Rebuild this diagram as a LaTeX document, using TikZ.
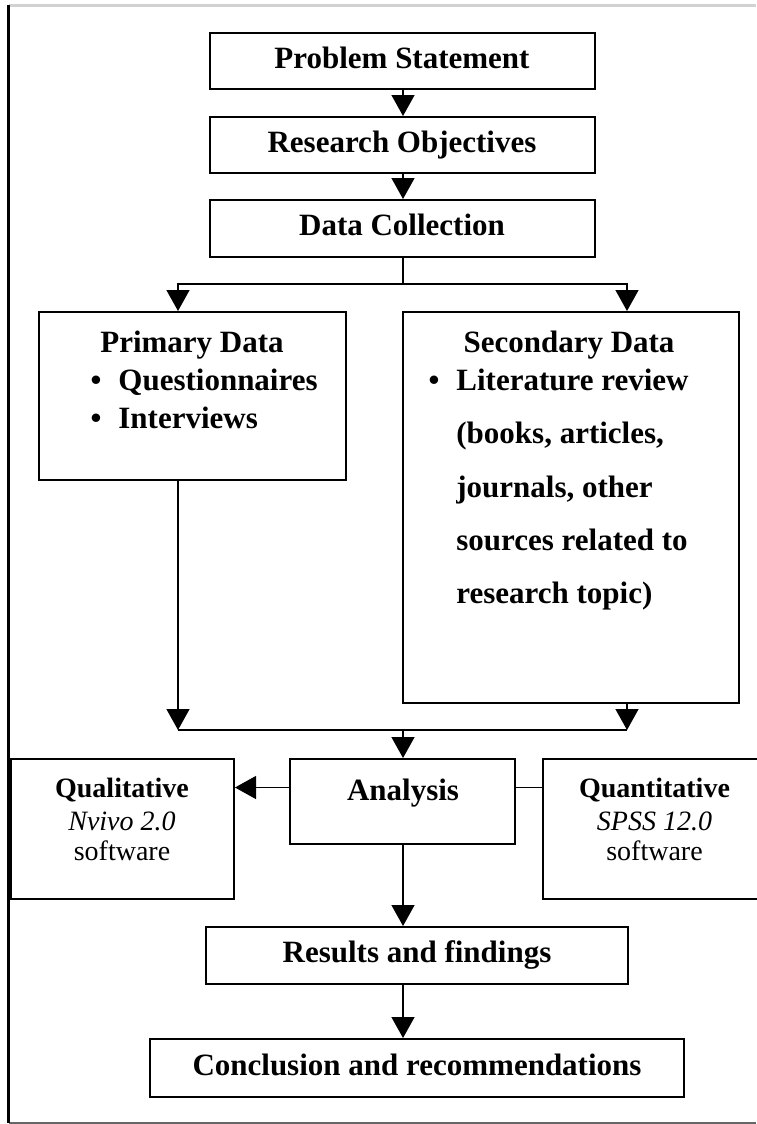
\documentclass[tikz,border=0pt]{standalone}
\usepackage{fontspec}
\setmainfont{Liberation Serif}
\usetikzlibrary{arrows.meta}
\tikzset{arrow/.style={-{Triangle[width=11.5pt,length=10.5pt]}, line width=0.7pt},
  box/.style={draw, line width=1pt, inner sep=0pt, text height=0.7em, text depth=0pt,
    font=\fontsize{15.5}{18}\selectfont\bfseries},
  txt/.style={inner sep=0pt, anchor=base, font=\fontsize{15.5}{18}\selectfont\bfseries},
  soft/.style={inner sep=0pt, anchor=base, font=\fontsize{14}{16}\selectfont}}

\begin{document}
\begin{tikzpicture}[x=0.5pt, y=-0.5pt]
      \useasboundingbox (0,0) rectangle (756,1124);
      % frame
      \draw[gray!35, line width=1.5pt] (8.5,5) -- (756,5);
      \draw[gray!80!black, line width=1pt] (8.5,1122.5) -- (756,1122.5);
      \draw[line width=1.2pt] (8.5,5) -- (8.5,1123);

      \node[box, minimum width=192.5pt, minimum height=28pt] (prob) at (402, 61) {Problem Statement};
      \node[box, minimum width=192.5pt, minimum height=28pt] (obj) at (402, 145) {Research Objectives};
      \node[box, minimum width=192.5pt, minimum height=28.5pt] (dc) at (402, 228.5) {Data Collection};

      \node[box, minimum width=153.5pt, minimum height=84pt] (prim) at (192.5, 396) {};
      \node[box, minimum width=168pt, minimum height=195.5pt] (sec) at (571, 507.5) {};

      \node[txt] (primT) at (192, 352) {Primary Data};
      \node[txt] (primB1) at (96, 390) {\textbullet};
      \node[txt, anchor=base west] (primQ) at (118, 390) {Questionnaires};
      \node[txt] (primB2) at (96, 428) {\textbullet};
      \node[txt, anchor=base west] (primI) at (118, 428) {Interviews};

      \node[txt] (secT) at (569, 352) {Secondary Data};
      \node[txt] (secB) at (434, 390) {\textbullet};
      \node[txt, anchor=base west] (secL1) at (456, 390) {Literature review};
      \node[txt, anchor=base west] (secL2) at (456, 443) {(books, articles,};
      \node[txt, anchor=base west] (secL3) at (456, 497) {journals, other};
      \node[txt, anchor=base west] (secL4) at (456, 550) {sources related to};
      \node[txt, anchor=base west] (secL5) at (456, 603) {research topic)};

      \node[box, minimum width=111.5pt, minimum height=70pt] (qual) at (122.5, 829) {};
      \node[box, minimum width=112.5pt, minimum height=42.5pt] (ana) at (402.5, 801.5) {};
      \node[box, minimum width=128.5pt, minimum height=70pt] (quan) at (671.5, 829) {};

      \node[soft, font=\fontsize{14}{16}\selectfont\bfseries] (qualT) at (122, 797) {Qualitative};
      \node[soft] (qualS) at (122, 830) {\textit{Nvivo 2.0}};
      \node[soft] (qualW) at (122, 860) {software};
      \node[txt] (anaT) at (403, 800) {Analysis};
      \node[soft, font=\fontsize{14}{16}\selectfont\bfseries] (quanT) at (654.5, 797) {Quantitative};
      \node[soft] (quanS) at (654.5, 830) {\textit{SPSS 12.0}};
      \node[soft] (quanW) at (654.5, 860) {software};

      \node[box, minimum width=211pt, minimum height=28.5pt] (res) at (417, 955.5) {Results and findings};
      \node[box, minimum width=267pt, minimum height=29pt] (conc) at (417, 1068) {Conclusion and recommendations};

      \coordinate (split) at (403, 284);
      \coordinate (splitL) at (178, 284);
      \coordinate (splitR) at (627, 284);
      \coordinate (join) at (403, 730);
      \coordinate (joinL) at (178, 730);
      \coordinate (joinR) at (627, 730);

      \draw[arrow] (prob.south -| split) -- (obj.north -| split);
      \draw[arrow] (obj.south -| split) -- (dc.north -| split);
      \draw[arrow] (dc.south -| split) -- (split) -- (splitL) -- (splitL |- prim.north);
      \draw[arrow] (split) -- (splitR) -- (splitR |- sec.north);

      \draw[arrow] (splitL |- prim.south) -- (joinL);
      \draw[arrow] (splitR |- sec.south) -- (joinR);
      \draw[line width=0.7pt] (joinL) -- (joinR);
      \draw[arrow] (join) -- (join |- ana.north);

      \draw[arrow] ([yshift=7pt]ana.west) -- ([yshift=7pt]ana.west -| qual.east);
      \draw[line width=0.7pt] ([yshift=7pt]ana.east) -- ([yshift=7pt]ana.east -| quan.west);

      \draw[arrow] (ana.south -| join) -- (res.north -| join);
      \draw[arrow] (res.south -| join) -- (conc.north -| join);
    \end{tikzpicture}
\end{document}
